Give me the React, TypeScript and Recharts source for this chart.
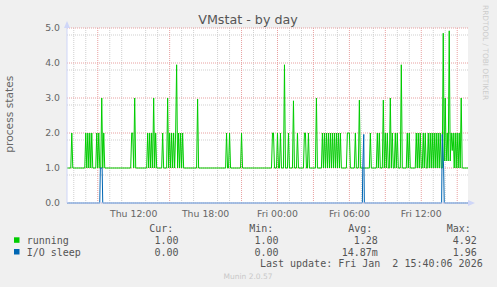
import React from "react";
import { LineChart, Line, XAxis, YAxis, CartesianGrid } from "recharts";

// time axis in minutes since Thu 00:00
const xDomain: [number, number] = [386, 2394];
const xTicks = [720, 1080, 1440, 1800, 2160];
const xTickLabels = ["Thu 12:00", "Thu 18:00", "Fri 00:00", "Fri 06:00", "Fri 12:00"];
const yTicks = [0, 1, 2, 3, 4, 5];
const yMinor = [0.2, 0.4, 0.6, 0.8, 1.2, 1.4, 1.6, 1.8, 2.2, 2.4, 2.6, 2.8, 3.2, 3.4, 3.6, 3.8, 4.2, 4.4, 4.6, 4.8];
const xMinor = [420, 480, 600, 660, 780, 840, 960, 1020, 1140, 1200, 1320, 1380, 1500, 1560, 1680, 1740, 1860, 1920, 2040, 2100, 2220, 2280];
const xMajor = [540, 720, 900, 1080, 1260, 1440, 1620, 1800, 1980, 2160, 2340];

const runningPoints: [number, number][] = [
  [386, 1], [405, 1], [410, 2], [415, 1],
  [475, 1], [480, 2], [485, 1], [490, 2], [495, 1], [500, 2], [505, 1], [510, 2], [515, 1],
  [530, 1], [535, 2], [540, 1], [545, 2], [550, 1], [555, 1], [560, 3], [565, 1], [570, 2], [575, 1],
  [705, 1], [710, 2], [715, 2], [720, 1], [725, 3], [730, 1],
  [785, 1], [790, 2], [795, 1], [800, 2], [805, 1], [810, 2], [815, 1], [820, 3], [825, 1], [830, 2], [835, 1],
  [860, 1], [865, 2], [870, 1],
  [885, 1], [890, 3], [895, 1], [900, 2], [905, 1], [910, 2], [915, 1], [920, 2], [925, 1], [930, 2],
  [935, 3.95], [940, 1], [945, 2], [950, 1], [955, 2], [960, 1], [965, 2], [970, 1],
  [1035, 1], [1040, 2.97], [1045, 1],
  [1180, 1], [1185, 2], [1190, 1], [1195, 1], [1200, 2], [1205, 1],
  [1255, 1], [1260, 2], [1265, 1],
  [1410, 1], [1415, 2], [1420, 2], [1425, 1],
  [1435, 1], [1440, 2], [1445, 1], [1450, 1], [1455, 2], [1460, 1],
  [1470, 1], [1475, 3.95], [1480, 1],
  [1490, 1], [1495, 2], [1500, 1],
  [1515, 1], [1520, 2.92], [1525, 1],
  [1535, 1], [1540, 2], [1545, 1],
  [1570, 1], [1575, 2], [1580, 2], [1585, 1],
  [1590, 1], [1595, 2], [1600, 1],
  [1630, 1], [1635, 3], [1640, 1],
  [1660, 1], [1665, 2], [1670, 1], [1675, 2], [1680, 1], [1685, 2], [1690, 1], [1695, 2], [1700, 1],
  [1705, 2], [1710, 1], [1715, 2], [1720, 1], [1725, 2], [1730, 1], [1735, 2], [1740, 1], [1745, 2],
  [1750, 1], [1755, 2], [1760, 1],
  [1785, 1], [1790, 2], [1800, 2], [1805, 1],
  [1825, 1], [1830, 2], [1835, 1],
  [1845, 1], [1850, 2.94], [1855, 1],
  [1900, 1], [1905, 2], [1910, 1],
  [1935, 1], [1940, 2], [1945, 1], [1950, 2], [1955, 1],
  [1965, 1], [1970, 2.94], [1975, 1], [1980, 2], [1985, 1], [1990, 2], [1995, 1], [2000, 1], [2005, 3],
  [2010, 1], [2015, 2], [2020, 1], [2025, 1], [2030, 2], [2035, 1], [2040, 2], [2045, 1],
  [2055, 1], [2060, 3.95], [2065, 1],
  [2085, 1], [2090, 2], [2095, 1], [2100, 2], [2105, 1],
  [2130, 1], [2135, 2], [2140, 1], [2145, 2], [2150, 1], [2155, 2], [2160, 1],
  [2165, 1], [2170, 2], [2175, 1], [2180, 2], [2185, 1],
  [2190, 1], [2195, 2], [2200, 1], [2205, 2], [2210, 1], [2215, 2], [2220, 1], [2225, 2], [2230, 1],
  [2235, 2], [2240, 1], [2245, 2], [2250, 1], [2255, 2], [2260, 1],
  [2265, 1], [2270, 4.85], [2275, 1.2], [2280, 3], [2285, 1.2], [2290, 2], [2295, 1.2], [2300, 4.92],
  [2305, 1.2], [2310, 2], [2315, 1.5], [2320, 2], [2325, 1], [2330, 2], [2335, 1], [2340, 2], [2345, 1],
  [2350, 2], [2355, 1], [2360, 3], [2365, 1], [2394, 1],
];

const ioSleepPoints: [number, number][] = [
  [386, 0], [550, 0], [553, 1], [562, 1], [565, 0],
  [1865, 0], [1867, 1], [1872, 1.96], [1875, 0],
  [2262, 0], [2265, 1.96], [2272, 1], [2275, 0], [2394, 0],
];

const seriesNames = ["running", "I/O sleep"];
const seriesColors = ["#00cc00", "#0066b3"];
const curValues = ["1.00", "0.00"];
const minValues = ["1.00", "0.00"];
const avgValues = ["1.28", "14.87m"];
const maxValues = ["4.92", "1.96"];

const runningData = runningPoints.map(([t, v]) => ({ t, v }));
const ioSleepData = ioSleepPoints.map(([t, v]) => ({ t, v }));

const FONT = "'DejaVu Sans', sans-serif";
const MONO = "'DejaVu Sans Mono', monospace";

export default function App() {
  const legendCols = [
    { head: "Cur:", hx: 149.3, vx: 178.5, vals: curValues },
    { head: "Min:", hx: 249.3, vx: 278.5, vals: minValues },
    { head: "Avg:", hx: 348.3, vx: 377.8, vals: avgValues },
    { head: "Max:", hx: 446.7, vx: 476.8, vals: maxValues },
  ];
  return (
    <div style={{ position: "absolute", left: 0, top: 0, width: 497, height: 287, background: "#f0f0f0", overflow: "hidden" }}>
      <LineChart width={497} height={287} data={runningData} margin={{ top: 28, right: 29, bottom: 54, left: 0 }}>
        <CartesianGrid
          fill="#ffffff"
          stroke="#cfcfcf"
          strokeDasharray="1 1"
          horizontalValues={yMinor}
          verticalValues={xMinor}
        />
        <CartesianGrid
          fill="none"
          stroke="#e8a0a0"
          strokeDasharray="1 1"
          horizontalValues={yTicks}
          verticalValues={xMajor}
        />
        <XAxis
          type="number"
          dataKey="t"
          domain={xDomain}
          allowDataOverflow
          ticks={xTicks}
          tickFormatter={(v: number) => xTickLabels[xTicks.indexOf(v)] ?? ""}
          height={30}
          tickSize={0}
          tickMargin={7}
          tickLine={false}
          axisLine={{ stroke: "#CFD6F8" }}
          tick={{ fill: "#666", fontSize: 9.33, fontFamily: FONT }}
        />
        <YAxis
          type="number"
          domain={[0, 5]}
          ticks={yTicks}
          width={67}
          tickSize={0}
          tickMargin={7}
          tickLine={false}
          tickFormatter={(v: number) => v.toFixed(1)}
          axisLine={{ stroke: "#CFD6F8" }}
          tick={{ fill: "#666", fontSize: 9.33, fontFamily: FONT }}
        />
        <Line
          data={runningData}
          dataKey="v"
          type="linear"
          stroke={seriesColors[0]}
          strokeWidth={1}
          dot={false}
          isAnimationActive={false}
        />
        <Line
          data={ioSleepData}
          dataKey="v"
          type="linear"
          stroke={seriesColors[1]}
          strokeWidth={1}
          dot={false}
          isAnimationActive={false}
        />
      </LineChart>
      <svg width={497} height={287} style={{ position: "absolute", left: 0, top: 0, pointerEvents: "none" }}>
        <text x={248} y={23.5} textAnchor="middle" fontFamily={FONT} fontSize={12.7} fill="#555">
          VMstat - by day
        </text>
        <text
          x={13.5}
          y={114.2}
          textAnchor="middle"
          fontFamily={FONT}
          fontSize={10.7}
          fill="#666"
          transform="rotate(-90 13.5 114.2)"
        >
          process states
        </text>
        <text x={483} y={5} fontFamily={FONT} fontSize={7.4} fill="#cccccc" transform="rotate(90 483 5)">
          RRDTOOL / TOBI OETIKER
        </text>
        <polygon points="64,28 70,28 67,21" fill="#CFD6F8" />
        <polygon points="468,200 468,206 475,203" fill="#CFD6F8" />
        {legendCols.map((c) => (
          <text key={c.head} x={c.hx} y={232.3} fontFamily={MONO} fontSize={10} fill="#555">
            {c.head}
          </text>
        ))}
        {seriesNames.map((name, i) => (
          <g key={name}>
            <rect x={14} y={237.3 + i * 11.7} width={5.5} height={5.5} fill={seriesColors[i]} />
            <text x={26.7} y={244 + i * 11.7} fontFamily={MONO} fontSize={10} fill="#555" xmlSpace="preserve">
              {name}
            </text>
            {legendCols.map((c) => (
              <text key={c.head} x={c.vx} y={244 + i * 11.7} textAnchor="end" fontFamily={MONO} fontSize={10} fill="#555">
                {c.vals[i]}
              </text>
            ))}
          </g>
        ))}
        <text x={482.7} y={267.3} textAnchor="end" fontFamily={MONO} fontSize={10} fill="#555" xmlSpace="preserve">
          {"Last update: Fri Jan  2 15:40:06 2026"}
        </text>
        <text x={248} y={279} textAnchor="middle" fontFamily={FONT} fontSize={7.5} fill="#c8c8c8">
          Munin 2.0.57
        </text>
      </svg>
    </div>
  );
}
